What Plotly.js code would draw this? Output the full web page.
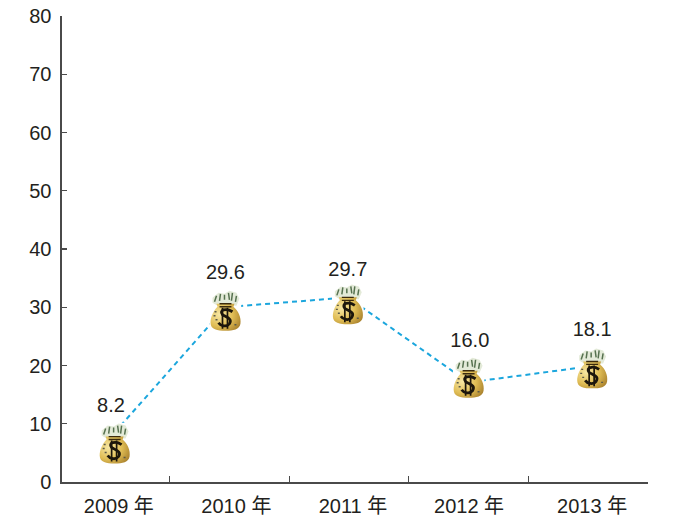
<!DOCTYPE html>
<html><head><meta charset="utf-8">
<script src="https://cdn.plot.ly/plotly-3.0.1.min.js"></script>
<style>html,body{margin:0;padding:0;background:#fff}</style></head>
<body><div id="chart" style="width:675px;height:522px"></div>
<script>
const categories = ['2009 年','2010 年','2011 年','2012 年','2013 年'];
const labels = ['8.2','29.6','29.7','16.0','18.1'];
const lineValues = [8.5,30.0,31.7,17.1,19.9];
const bagValues = [6.6,29.4,30.5,17.9,19.5];
const labelValues = [12.8,35.7,36.3,24.0,26.0];
const pointSlots = [0.54,1.467,2.49,3.5,4.533];
const textSlots = [0.51,1.467,2.49,3.51,4.533];
const labelSlots = [0.575,1.558,2.533,3.504,4.533];
const boundaries = [1,2,3,4,5];
const yTicks = [0,10,20,30,40,50,60,70,80];

const bagSvg = `<svg xmlns="http://www.w3.org/2000/svg" width="128" height="168" viewBox="0 0 32 42">
<defs><filter id="b" x="-10%" y="-10%" width="120%" height="120%"><feGaussianBlur stdDeviation="0.45"/></filter>
<radialGradient id="g" cx="30%" cy="40%" r="80%"><stop offset="0" stop-color="#f7e7a4"/><stop offset="0.55" stop-color="#e0bd55"/><stop offset="1" stop-color="#a8802c"/></radialGradient></defs>
<rect width="32" height="42" fill="#fff"/>
<g filter="url(#b)">
<path d="M3 8 L9 3 L15 4 L20 1 L27 3 L30 9 L27 16 L8 16 L3 13Z" fill="#e3ead8"/>
<path d="M7 6 L5 12 M11 4 L10 11 M15 5 L15 10 M19 3 L20 10 M23 3 L22 11 M27 6 L26 12" stroke="#56714f" stroke-width="1.5" fill="none"/>
<path d="M7 14 L25 14 L24 17 C29 21 32 28 31 34 C30 40 24 41 16 41 C8 41 1 40 1 33 C1 27 4 21 8 17Z" fill="url(#g)"/>
<path d="M10 14 h12 M10 17 h12" stroke="#3a2c10" stroke-width="1.4"/>
<path d="M23 22 C17 18 9 20 13 25 C18 28 23 29 20 34 C17 38 11 36 9 33" stroke="#1d1608" stroke-width="2.8" fill="none"/>
<path d="M13 18 L13 39 M18 18 L18 39" stroke="#1d1608" stroke-width="1.7" fill="none"/>
<path d="M5 22 h2 M4 26 h2 M6 30 h2 M25 35 h2" stroke="#5b5a48" stroke-width="1.4"/>
</g></svg>`;
const bagSource = 'data:image/svg+xml;charset=utf-8,' + encodeURIComponent(bagSvg);

const font = {family:'"Liberation Sans","Noto Sans CJK SC",sans-serif', size:20, color:'#231f20'};
const axisColor = '#4a4a4a';

const traces = [
 {x:pointSlots, y:lineValues, mode:'lines', type:'scatter', hoverinfo:'skip',
  line:{color:'#1ba6dd', width:2, dash:'5px,4px'}},
 {x:labelSlots, y:bagValues, xaxis:'x2', mode:'markers', type:'scatter', hoverinfo:'skip',
  marker:{size:1,color:'rgba(0,0,0,0)'}},
 {x:textSlots, y:labelValues, mode:'text', type:'scatter', text:labels, textposition:'middle center',
  textfont:font, cliponaxis:false, hoverinfo:'skip'}
];
const xDomain = [0.1, 5];
const layout = {
 width:675, height:522, showlegend:false, paper_bgcolor:'#fff', plot_bgcolor:'#fff',
 margin:{l:61.5,r:27,t:16,b:39.5}, font:font,
 xaxis:{range:xDomain, tickmode:'array', tickvals:boundaries, showticklabels:false,
   ticks:'inside', ticklen:6, tickwidth:1.3, tickcolor:axisColor, showgrid:false, zeroline:false,
   showline:true, linecolor:axisColor, linewidth:1.6},
 xaxis2:{range:xDomain, overlaying:'x', side:'bottom', anchor:'y', tickmode:'array', tickvals:labelSlots, ticktext:categories,
   ticks:'', ticklen:0, showgrid:false, zeroline:false, showline:false, tickfont:font, ticklabelstandoff:10},
 yaxis:{range:[0,80], tickmode:'array', tickvals:yTicks, ticks:'inside', ticklen:5, tickwidth:1.3,
   tickcolor:axisColor, showgrid:false, zeroline:false, showline:true, linecolor:axisColor, linewidth:1.6,
   tickfont:font, ticklabelstandoff:5},
 images: pointSlots.map((s,i)=>({source:bagSource, xref:'x', yref:'y', x:s, y:bagValues[i],
   sizex:32/120, sizey:42/5.84, xanchor:'center', yanchor:'middle', sizing:'stretch', layer:'above'}))
};
Plotly.newPlot('chart', traces, layout, {displayModeBar:false, staticPlot:true});
</script></body></html>
